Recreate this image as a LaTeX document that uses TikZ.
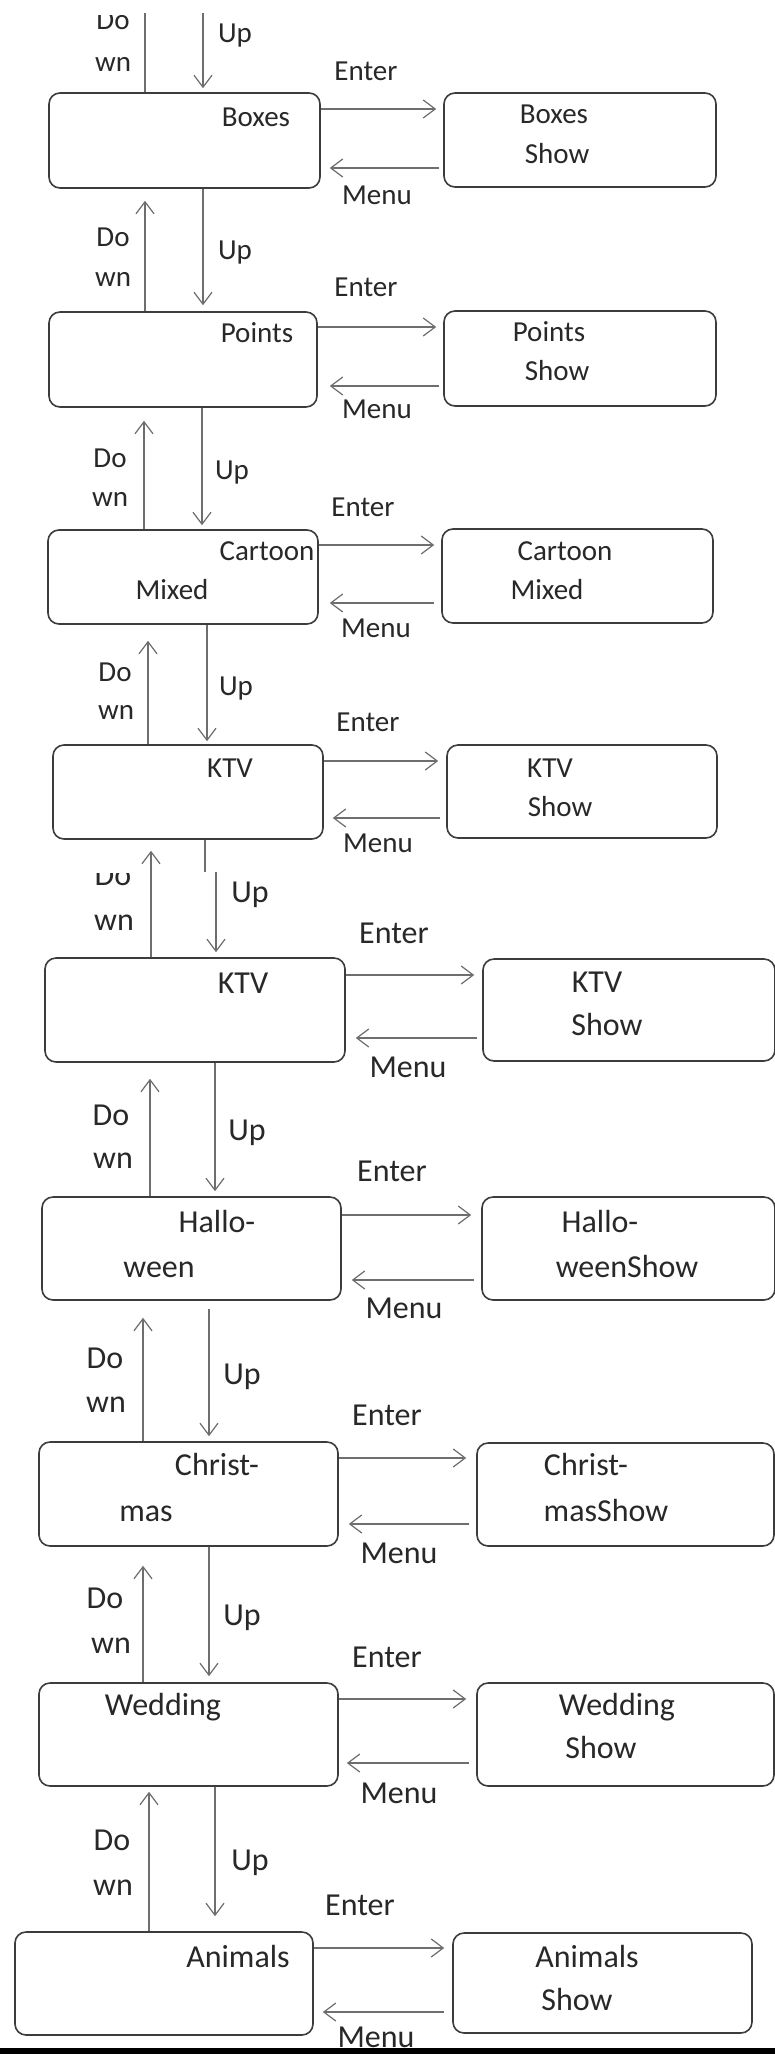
\documentclass[tikz,border=0pt]{standalone}
\usepackage{fontspec}
\setmainfont{Carlito}
\usetikzlibrary{arrows.meta,fit}
\definecolor{txt}{RGB}{40,40,40}
\definecolor{boxc}{RGB}{60,60,60}
\definecolor{arrc}{RGB}{110,110,110}
\begin{document}
\begin{tikzpicture}[x=1pt,y=-1pt,
 box/.style={draw=boxc, line width=1.6pt, rounded corners=11pt, inner sep=0pt},
 arr/.style={draw=arrc, line width=1.2pt, -{Straight Barb[length=12pt,width=18pt]}},
 ln/.style={draw=arrc, line width=1.2pt},
 la/.style={inner sep=0pt, text height=18.5pt, text depth=0pt, text=txt, font=\fontsize{29}{35}\selectfont},
 lb/.style={inner sep=0pt, text height=20.5pt, text depth=0pt, text=txt, font=\fontsize{32}{38}\selectfont}]
\useasboundingbox (0,0) rectangle (775,2054);
\fill[white] (0,0) rectangle (775,2054);

% boxes
\node[box, fit={(49,93) (320,188)}] (L1) {};
\node[box, fit={(444,93) (716,187)}] (R1) {};
\node[box, fit={(49,312) (317,407)}] (L2) {};
\node[box, fit={(444,311) (716,406)}] (R2) {};
\node[box, fit={(48,530) (318,624)}] (L3) {};
\node[box, fit={(442,529) (713,623)}] (R3) {};
\node[box, fit={(53,745) (323,839)}] (L4) {};
\node[box, fit={(447,745) (717,838)}] (R4) {};
\node[box, fit={(45,958) (345,1062)}] (L5) {};
\node[box, fit={(483,959) (775,1061)}] (R5) {};
\node[box, fit={(42,1197) (341,1300)}] (L6) {};
\node[box, fit={(482,1197) (775,1300)}] (R6) {};
\node[box, fit={(39,1442) (338,1546)}] (L7) {};
\node[box, fit={(477,1443) (774,1546)}] (R7) {};
\node[box, fit={(39,1683) (338,1786)}] (L8) {};
\node[box, fit={(477,1683) (774,1786)}] (R8) {};
\node[box, fit={(15,1932) (313,2035)}] (L9) {};
\node[box, fit={(453,1933) (752,2033)}] (R9) {};

% texts in boxes
\node[la] (tL1) at (256,117) {Boxes};
\node[la] (tR1a) at (554,114) {Boxes};
\node[la] (tR1b) at (557,154) {Show};
\node[la] (tL2) at (257,333) {Points};
\node[la] (tR2a) at (549,332) {Points};
\node[la] (tR2b) at (557,371) {Show};
\node[la] (tL3a) at (267,551) {Cartoon};
\node[la] (tL3b) at (172,590) {Mixed};
\node[la] (tR3a) at (565,551) {Cartoon};
\node[la] (tR3b) at (547,590) {Mixed};
\node[la] (tL4) at (230,768) {KTV};
\node[la] (tR4a) at (550,768) {KTV};
\node[la] (tR4b) at (560,807) {Show};
\node[lb] (tL5) at (243,983) {KTV};
\node[lb] (tR5a) at (597,982) {KTV};
\node[lb] (tR5b) at (607,1025) {Show};
\node[lb] (tL6a) at (217,1222) {Hallo-};
\node[lb] (tL6b) at (159,1267) {ween};
\node[lb] (tR6a) at (600,1222) {Hallo-};
\node[lb] (tR6b) at (627,1267) {weenShow};
\node[lb] (tL7a) at (217,1465) {Christ-};
\node[lb] (tL7b) at (146,1511) {mas};
\node[lb] (tR7a) at (586,1465) {Christ-};
\node[lb] (tR7b) at (606,1511) {masShow};
\node[lb] (tL8) at (163,1705) {Wedding};
\node[lb] (tR8a) at (617,1705) {Wedding};
\node[lb] (tR8b) at (601,1748) {Show};
\node[lb] (tL9) at (238,1957) {Animals};
\node[lb] (tR9a) at (587,1957) {Animals};
\node[lb] (tR9b) at (577,2000) {Show};

% horizontal arrows
\draw[arr, shorten >=7pt] (L1.east |- 0,109) -- (R1.west |- 0,109);
\draw[arr, shorten <=4pt, shorten >=9pt] (R1.west |- 0,168) -- (L1.east |- 0,168);
\draw[arr, shorten >=7pt] (L2.east |- 0,327) -- (R2.west |- 0,327);
\draw[arr, shorten <=4pt, shorten >=12pt] (R2.west |- 0,386) -- (L2.east |- 0,386);
\draw[arr, shorten >=7pt] (L3.east |- 0,545) -- (R3.west |- 0,545);
\draw[arr, shorten <=7pt, shorten >=11pt] (R3.west |- 0,603) -- (L3.east |- 0,603);
\draw[arr, shorten >=8pt] (L4.east |- 0,761) -- (R4.west |- 0,761);
\draw[arr, shorten <=6pt, shorten >=9pt] (R4.west |- 0,818) -- (L4.east |- 0,818);
\draw[arr, shorten >=8pt] (L5.east |- 0,975) -- (R5.west |- 0,975);
\draw[arr, shorten <=5pt, shorten >=10pt] (R5.west |- 0,1038) -- (L5.east |- 0,1038);
\draw[arr, shorten >=10pt] (L6.east |- 0,1215) -- (R6.west |- 0,1215);
\draw[arr, shorten <=7pt, shorten >=10pt] (R6.west |- 0,1280) -- (L6.east |- 0,1280);
\draw[arr, shorten >=10pt] (L7.east |- 0,1458) -- (R7.west |- 0,1458);
\draw[arr, shorten <=7pt, shorten >=10pt] (R7.west |- 0,1524) -- (L7.east |- 0,1524);
\draw[arr, shorten >=10pt] (L8.east |- 0,1699) -- (R8.west |- 0,1699);
\draw[arr, shorten <=7pt, shorten >=8pt] (R8.west |- 0,1763) -- (L8.east |- 0,1763);
\draw[arr, shorten >=8pt] (L9.east |- 0,1948) -- (R9.west |- 0,1948);
\draw[arr, shorten <=8pt, shorten >=9pt] (R9.west |- 0,2012) -- (L9.east |- 0,2012);

% vertical arrows
\coordinate (t1) at (145,13);
\coordinate (t2) at (203,13);
\draw[ln] (L1.north -| t1) -- (t1);
\draw[arr, shorten >=4pt] (t2) -- (L1.north -| t2);
\draw[arr, shorten >=12pt] (L2.north -| 145,0) -- (L1.south -| 145,0);
\draw[arr, shorten >=6pt] (L1.south -| 203,0) -- (L2.north -| 203,0);
\draw[arr, shorten >=13pt] (L3.north -| 144,0) -- (L2.south -| 144,0);
\draw[arr, shorten >=4pt] (L2.south -| 202,0) -- (L3.north -| 202,0);
\draw[arr, shorten >=16pt] (L4.north -| 148,0) -- (L3.south -| 148,0);
\draw[arr, shorten >=3pt] (L3.south -| 207,0) -- (L4.north -| 207,0);
\draw[arr, shorten >=11pt] (L5.north -| 151,0) -- (L4.south -| 151,0);
\coordinate (s1) at (205,872);
\coordinate (s2) at (216,872);
\draw[ln] (L4.south -| s1) -- (s1);
\draw[arr, shorten >=5pt] (s2) -- (L5.north -| s2);
\draw[arr, shorten >=16pt] (L6.north -| 150,0) -- (L5.south -| 150,0);
\draw[arr, shorten >=5pt] (L5.south -| 215,0) -- (L6.north -| 215,0);
\draw[arr, shorten >=17pt] (L7.north -| 143,0) -- (L6.south -| 143,0);
\draw[arr, shorten <=8pt, shorten >=5pt] (L6.south -| 209,0) -- (L7.north -| 209,0);
\draw[arr, shorten >=19pt] (L8.north -| 143,0) -- (L7.south -| 143,0);
\draw[arr, shorten >=6pt] (L7.south -| 209,0) -- (L8.north -| 209,0);
\draw[arr, shorten >=5pt] (L9.north -| 149,0) -- (L8.south -| 149,0);
\draw[arr, shorten >=15pt] (L8.south -| 215,0) -- (L9.north -| 215,0);

% connector labels
\begin{scope}
\clip (0,15) rectangle (775,60);
\node[la] (do0) at (113,20) {Do};
\end{scope}
\node[la] (wn0) at (113,62) {wn};
\node[la] (up0) at (235,33) {Up};
\node[la] (en1) at (366,71) {Enter};
\node[la] (me1) at (377,195) {Menu};
\node[la] (do1) at (113,237) {Do};
\node[la] (wn1) at (113,277) {wn};
\node[la] (up1) at (235,250) {Up};
\node[la] (en2) at (366,287) {Enter};
\node[la] (me2) at (377,409) {Menu};
\node[la] (do2) at (110,458) {Do};
\node[la] (wn2) at (110,497) {wn};
\node[la] (up2) at (232,470) {Up};
\node[la] (en3) at (363,507) {Enter};
\node[la] (me3) at (376,628) {Menu};
\node[la] (do3) at (115,672) {Do};
\node[la] (wn3) at (116,710) {wn};
\node[la] (up3) at (236,686) {Up};
\node[la] (en4) at (368,722) {Enter};
\node[la] (me4) at (378,843) {Menu};
\begin{scope}
\clip (0,873) rectangle (200,900);
\node[lb] (do4) at (113,875) {Do};
\end{scope}
\node[lb] (wn4) at (114,920) {wn};
\node[lb] (up4) at (250,892) {Up};
\node[lb] (en5) at (394,933) {Enter};
\node[lb] (me5) at (408,1067) {Menu};
\node[lb] (do5) at (111,1115) {Do};
\node[lb] (wn5) at (113,1158) {wn};
\node[lb] (up5) at (247,1130) {Up};
\node[lb] (en6) at (392,1171) {Enter};
\node[lb] (me6) at (404,1308) {Menu};
\node[lb] (do6) at (105,1358) {Do};
\node[lb] (wn6) at (106,1402) {wn};
\node[lb] (up6) at (242,1374) {Up};
\node[lb] (en7) at (387,1415) {Enter};
\node[lb] (me7) at (399,1553) {Menu};
\node[lb] (do7) at (105,1598) {Do};
\node[lb] (wn7) at (111,1643) {wn};
\node[lb] (up7) at (242,1615) {Up};
\node[lb] (en8) at (387,1657) {Enter};
\node[lb] (me8) at (399,1793) {Menu};
\node[lb] (do8) at (112,1840) {Do};
\node[lb] (wn8) at (113,1885) {wn};
\node[lb] (up8) at (250,1860) {Up};
\node[lb] (en9) at (360,1905) {Enter};
\node[lb] (me9) at (376,2037) {Menu};

% bottom edge bar
\fill[black] (0,2048) rectangle (775,2054);
\end{tikzpicture}
\end{document}
